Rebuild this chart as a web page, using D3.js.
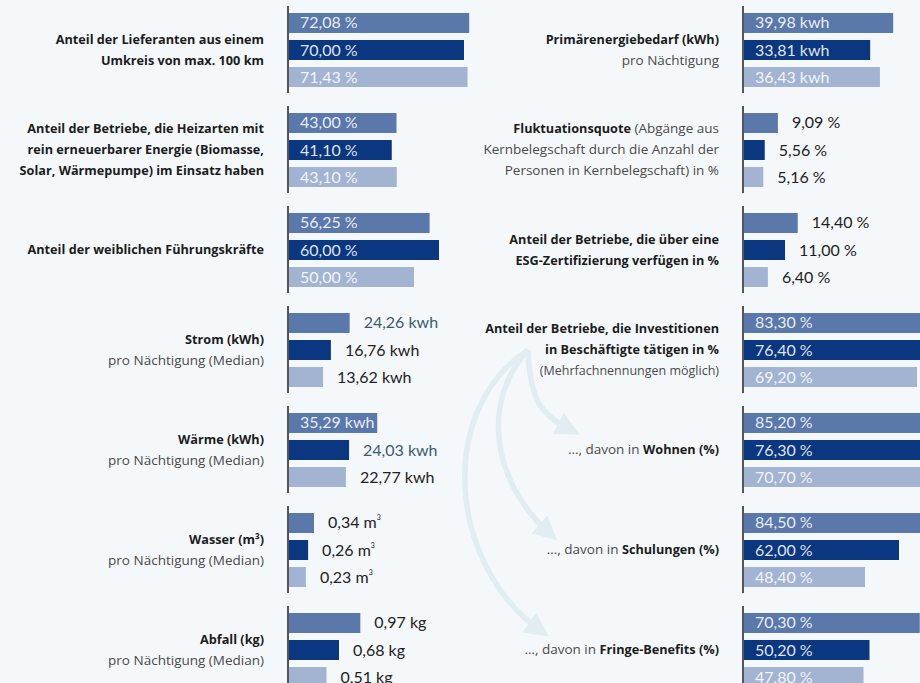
<!DOCTYPE html>
<html>
<head>
<meta charset="utf-8">
<script src="https://cdn.jsdelivr.net/npm/d3@7"></script>
<style>
  body { margin: 0; background: #f5f8fb; }
  svg { display: block; font-family: Lato, "Noto Sans", sans-serif; }
  .cat { font-family: "Open Sans", Lato, sans-serif; }
</style>
</head>
<body>
<div id="chart"></div>
<script>
// Three series per group (bar colours top to bottom)
var seriesColors = ["#5a78a9", "#0b3780", "#a3b4d2"];

// Left column: labels are lines of [text, style] segments (b = bold, r = regular, s = small)
var leftLabels = [
  [[["Anteil der Lieferanten aus einem", "b"]], [["Umkreis von max. 100 km", "b"]]],
  [[["Anteil der Betriebe, die Heizarten mit", "b"]], [["rein erneuerbarer Energie (Biomasse,", "b"]], [["Solar, Wärmepumpe) im Einsatz haben", "b"]]],
  [[["Anteil der weiblichen Führungskräfte", "b"]]],
  [[["Strom (kWh)", "b"]], [["pro Nächtigung (Median)", "r"]]],
  [[["Wärme (kWh)", "b"]], [["pro Nächtigung (Median)", "r"]]],
  [[["Wasser (m³)", "b"]], [["pro Nächtigung (Median)", "r"]]],
  [[["Abfall (kg)", "b"]], [["pro Nächtigung (Median)", "r"]]]
];
var leftValues = [
  [72.08, 70.00, 71.43],
  [43.00, 41.10, 43.10],
  [56.25, 60.00, 50.00],
  [24.26, 16.76, 13.62],
  [35.29, 24.03, 22.77],
  [0.34, 0.26, 0.23],
  [0.97, 0.68, 0.51]
];
var leftUnits = ["%", "%", "%", "kwh", "kwh", "m3", "kg"];
var leftScaleMax = [100, 100, 100, 100, 100, 3.4, 3.4];

// Right column
var rightLabels = [
  [[["Primärenergiebedarf (kWh)", "b"]], [["pro Nächtigung", "r"]]],
  [[["Fluktuationsquote", "b"], [" (Abgänge aus", "r"]], [["Kernbelegschaft durch die Anzahl der", "r"]], [["Personen in Kernbelegschaft) in %", "r"]]],
  [[["Anteil der Betriebe, die über eine", "b"]], [["ESG-Zertifizierung verfügen in %", "b"]]],
  [[["Anteil der Betriebe, die Investitionen", "b"]], [["in Beschäftigte tätigen in %", "b"]], [["(Mehrfachnennungen möglich)", "s"]]],
  [[["…, davon in ", "r"], ["Wohnen (%)", "b"]]],
  [[["…, davon in ", "r"], ["Schulungen (%)", "b"]]],
  [[["…, davon in ", "r"], ["Fringe-Benefits (%)", "b"]]]
];
var rightValues = [
  [39.98, 33.81, 36.43],
  [9.09, 5.56, 5.16],
  [14.40, 11.00, 6.40],
  [83.30, 76.40, 69.20],
  [85.20, 76.30, 70.70],
  [84.50, 62.00, 48.40],
  [70.30, 50.20, 47.80]
];
var rightUnits = ["kwh", "%", "%", "%", "%", "%", "%"];
var rightScaleMax = [67, 67, 67, 100, 100, 100, 100];

// outside labels that the original prints in slate instead of black
var slateLabels = ["24,26 kwh", "24,03 kwh"];

var width = 920, height = 683;
var deFormat = d3.formatLocale({decimal: ",", thousands: ".", grouping: [3], currency: ["", " €"]}).format(".2f");

var svg = d3.select("#chart").append("svg")
  .attr("width", width)
  .attr("height", height);

// group and series scales
var yGroup = d3.scaleBand().domain(d3.range(7)).range([6, 706]);
var ySeries = d3.scaleBand().domain([0, 1, 2]).range([0, 74]).paddingInner(0.26);
var barTop = 7;   // first bar below group top

// arrow head for the curved pointers
var defs = svg.append("defs");
defs.append("marker")
  .attr("id", "head")
  .attr("markerUnits", "userSpaceOnUse")
  .attr("viewBox", "0 0 10 10")
  .attr("refX", 6).attr("refY", 5)
  .attr("markerWidth", 24).attr("markerHeight", 24)
  .attr("orient", "auto")
  .append("path")
  .attr("d", "M0,0 L10,5 L0,10 Z")
  .attr("fill", "#e1edf1");

var catSize = {b: 12.7, r: 13.5, s: 12.5};

function drawColumn(axisX, labelX, labels, values, units, scaleMax) {
  var col = svg.append("g");
  labels.forEach(function(lines, g) {
    var top = yGroup(g) + barTop;
    var center = top + 37;
    var x = d3.scaleLinear().domain([0, scaleMax[g]]).range([0, 250]);

    // category label
    var n = lines.length;
    lines.forEach(function(segs, i) {
      var t = col.append("text")
        .attr("class", "cat")
        .attr("x", labelX)
        .attr("y", center + 4 + (i - (n - 1) / 2) * 21)
        .attr("text-anchor", "end");
      segs.forEach(function(s) {
        t.append("tspan")
          .attr("font-weight", s[1] === "b" ? 700 : 400)
          .attr("font-size", catSize[s[1]])
          .attr("fill", s[1] === "b" ? "#1c1c1c" : "#4a4a4a")
          .text(s[0]);
      });
    });

    // bars
    values[g].forEach(function(v, s) {
      var y = top + ySeries(s);
      var w = x(v);
      col.append("rect")
        .attr("x", axisX + 1)
        .attr("y", y)
        .attr("width", w)
        .attr("height", ySeries.bandwidth())
        .attr("fill", seriesColors[s]);

      var unit = units[g];
      var txt = col.append("text")
        .attr("y", y + ySeries.bandwidth() / 2 + 5.5)
        .attr("font-size", 16)
        .attr("font-weight", 400);
      if (unit === "m3") {
        txt.append("tspan").text(deFormat(v) + " m");
        txt.append("tspan").attr("font-size", 7).attr("dy", -8).text("3");
      } else {
        txt.text(deFormat(v) + " " + unit);
      }
      var tw = txt.node().getComputedTextLength();
      var label = deFormat(v) + " " + unit;
      if (w >= 80 && tw + 12 <= w) {
        txt.attr("x", axisX + 12).attr("fill", "#ffffff").attr("fill-opacity", 0.88);
      } else {
        txt.attr("x", axisX + 1 + w + 14)
          .attr("fill", slateLabels.indexOf(label) >= 0 ? "#3e5a70" : "#222222");
      }
    });

    // axis stub
    col.append("line")
      .attr("x1", axisX).attr("x2", axisX)
      .attr("y1", top - 7).attr("y2", top + 80)
      .attr("stroke", "#555555")
      .attr("stroke-width", 2);
  });
}

// curved arrows from "Investitionen" to its three sub-items (behind text)
var rightLabelX = 719;
var arrowG = svg.append("g");
var start = [rightLabelX - 191, yGroup(3) + barTop + 37];
var ends = [
  {to: [571, yGroup(4) + barTop + 17], c1: [start[0] + 2, start[1] + 50], c2: [start[0] + 12, start[1] + 64]},
  {to: [550, yGroup(5) + barTop + 21], c1: [start[0] - 46, start[1] + 50], c2: [start[0] - 38, start[1] + 130]},
  {to: [541, yGroup(6) + barTop + 18], c1: [start[0] - 92, start[1] + 60], c2: [start[0] - 80, start[1] + 215]}
];
ends.forEach(function(e) {
  var p = d3.path();
  p.moveTo(start[0], start[1]);
  p.bezierCurveTo(e.c1[0], e.c1[1], e.c2[0], e.c2[1], e.to[0], e.to[1]);
  arrowG.append("path")
    .attr("d", p.toString())
    .attr("fill", "none")
    .attr("stroke", "#e1edf1")
    .attr("stroke-width", 5.5)
    .attr("marker-end", "url(#head)");
});

drawColumn(288, 264, leftLabels, leftValues, leftUnits, leftScaleMax);
drawColumn(743, rightLabelX, rightLabels, rightValues, rightUnits, rightScaleMax);
</script>
</body>
</html>
